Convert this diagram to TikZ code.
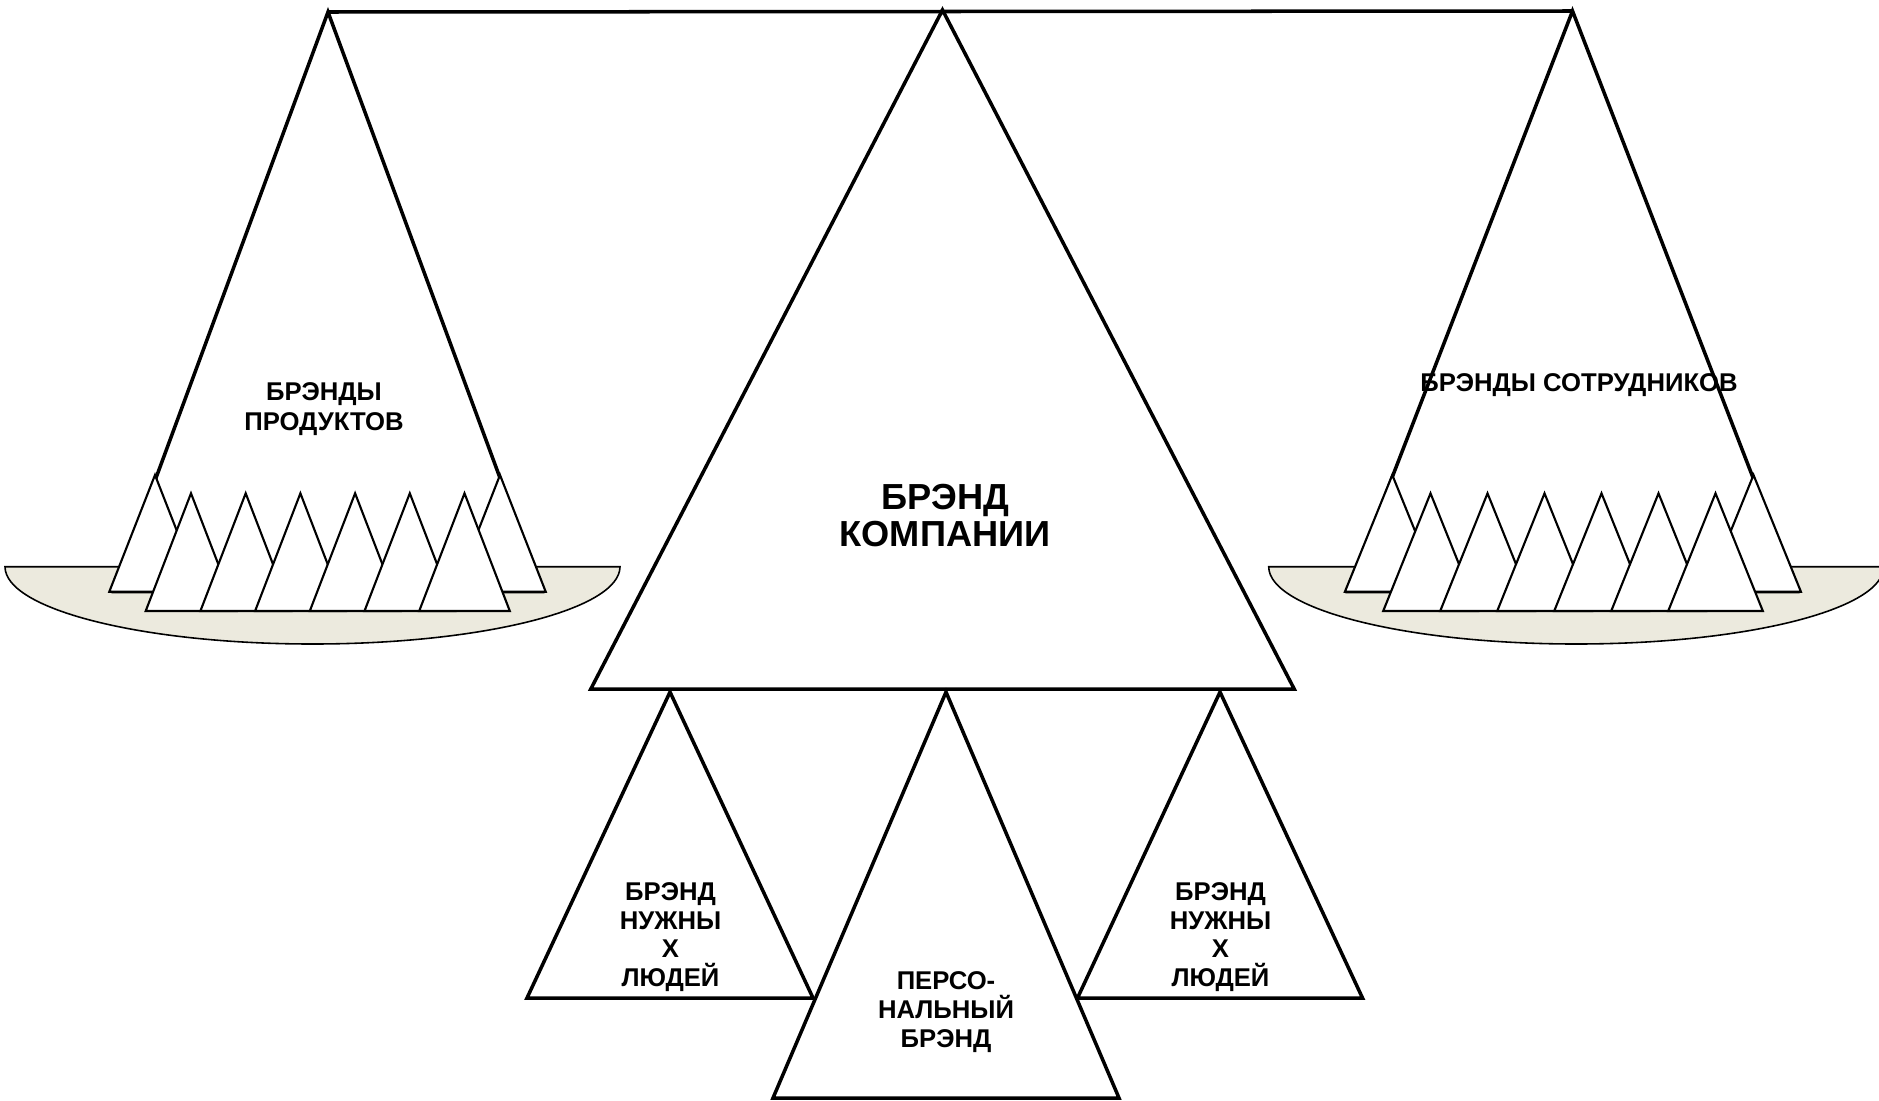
\documentclass[tikz,border=0pt]{standalone}
\usepackage{fontspec}
\setmainfont{Liberation Sans}
\usetikzlibrary{positioning}
\definecolor{dishfill}{RGB}{236,234,222}

\tikzset{
  big/.style={draw,line width=1pt,fill=white},
  small/.style={draw,line width=0.6pt,fill=white},
  dish/.style={draw,line width=0.45pt,fill=dishfill},
  lbl/.style={font=\fontsize{7.3}{8.2}\selectfont\bfseries,align=center,inner sep=0pt,anchor=base},
  biglbl/.style={font=\fontsize{10.3}{10.45}\selectfont\bfseries,align=center,inner sep=0pt,anchor=base}
}

\begin{document}
\begin{tikzpicture}[x=0.01cm,y=-0.01cm]
\useasboundingbox (0,0) rectangle (1879,1100);

\coordinate (prod) at (328,12);
\coordinate (comp) at (942.5,10);
\coordinate (empl) at (1572.5,11);
\coordinate (needl) at (670,692);
\coordinate (pers) at (946,692);
\coordinate (needr) at (1220,692);

% plates
\draw[dish] (5,566.7) arc[start angle=180,end angle=0,x radius=307.5,y radius=77.3] -- cycle;
\draw[dish] (1268.7,566.7) arc[start angle=180,end angle=0,x radius=307.5,y radius=77.3] -- cycle;

% big side triangles
\draw[big] (prod) -- ++(-214,579.7) -- ++(428,0) -- cycle;
\draw[big] (empl) -- ++(-224.6,580.7) -- ++(449.2,0) -- cycle;

% small triangles on the plates
\foreach \x in {155,500} {
\draw[small] (\x,475) -- ++(45.7,116.7) -- ++(-91.4,0) -- cycle;}
\foreach \i in {0,...,5} {
\draw[small] (191+54.7*\i,493.3) -- ++(45.3,117.7) -- ++(-90.6,0) -- cycle;}
\foreach \x in {1392.3,1753.5} {
\draw[small] (\x,475) -- ++(47.4,116.7) -- ++(-94.8,0) -- cycle;}
\foreach \i in {0,...,5} {
\draw[small] (1430.5+57*\i,493.3) -- ++(47.3,117.7) -- ++(-94.6,0) -- cycle;}

% company
\draw[big] (comp) -- ++(351.7,679) -- ++(-703.4,0) -- cycle;
\draw[big] (prod) -- (empl);

% bottom row
\draw[big] (needl) -- ++(143,306) -- ++(-286,0) -- cycle;
\draw[big] (needr) -- ++(142.5,306) -- ++(-285,0) -- cycle;
\draw[big] (pers) -- ++(173,406) -- ++(-346,0) -- cycle;

\node[lbl,font=\fontsize{7.3}{8.5}\selectfont\bfseries] (prodlbl) at (324,430) {БРЭНДЫ\\ПРОДУКТОВ};
\node[lbl] (empllbl) at (1579,391) {БРЭНДЫ СОТРУДНИКОВ};
\node[biglbl] (complbl) at (945,546.7) {БРЭНД\\КОМПАНИИ};
\node[lbl] (needllbl) at (670.5,986.7) {БРЭНД\\НУЖНЫ\\Х\\ЛЮДЕЙ};
\node[lbl] (needrlbl) at (1220.5,986.7) {БРЭНД\\НУЖНЫ\\Х\\ЛЮДЕЙ};
\node[lbl] (perslbl) at (946,1047.3) {ПЕРСО-\\НАЛЬНЫЙ\\БРЭНД};
\end{tikzpicture}
\end{document}
